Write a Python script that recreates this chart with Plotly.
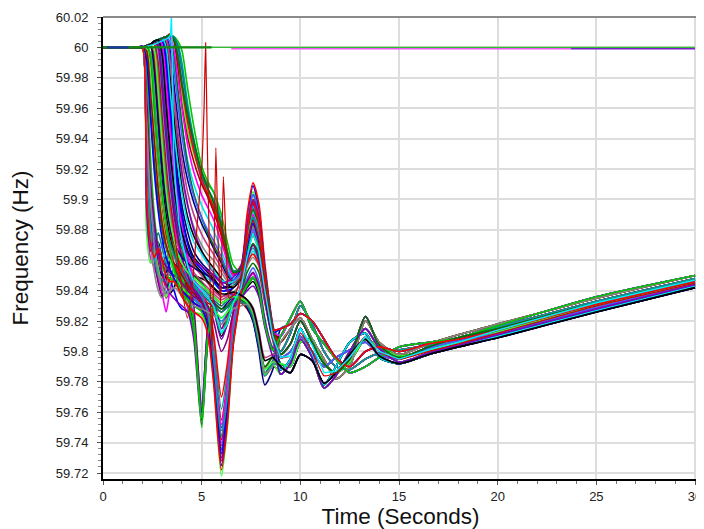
import plotly.graph_objects as go

# ---------------- data ----------------
time_s = [0, 1.8, 2.0, 2.2, 2.4, 2.6, 2.8, 3.0, 3.2, 3.4, 3.6, 3.8, 4.0,
          4.3, 4.6, 5.0, 5.3, 5.6, 6.0, 6.3, 6.6, 7.0, 7.3, 7.6, 7.9, 8.2, 8.6,
          9.0, 9.5, 10.0, 10.6, 11.2, 11.8, 12.5, 13.3, 14.0, 15.0, 16.5, 18.0, 20.0, 25.0, 30.0]

freq_series = [
    # early-onset units (drop at ~2.1 s)
    [60, 60, 60.000, 59.900, 59.868, 59.876, 59.862, 59.850, 59.842, 59.848, 59.852, 59.846, 59.840,
     59.834, 59.830, 59.827, 59.820, 59.792, 59.738, 59.768, 59.812, 59.840, 59.864, 59.876, 59.866, 59.838, 59.810,
     59.792, 59.790, 59.806, 59.808, 59.792, 59.786, 59.793, 59.808, 59.803, 59.797, 59.801, 59.806, 59.813, 59.830, 59.845],
    [60, 60, 60.001, 59.915, 59.880, 59.866, 59.872, 59.860, 59.848, 59.838, 59.842, 59.848, 59.843,
     59.835, 59.816, 59.755, 59.806, 59.828, 59.810, 59.818, 59.830, 59.836, 59.842, 59.846, 59.838, 59.818, 59.801,
     59.800, 59.812, 59.830, 59.818, 59.800, 59.790, 59.788, 59.795, 59.799, 59.801, 59.804, 59.809, 59.816, 59.833, 59.848],
    [60, 60, 60.000, 59.925, 59.888, 59.880, 59.866, 59.858, 59.862, 59.854, 59.846, 59.842, 59.838,
     59.845, 59.842, 59.836, 59.832, 59.830, 59.826, 59.830, 59.834, 59.832, 59.828, 59.820, 59.802, 59.784, 59.790,
     59.788, 59.795, 59.815, 59.798, 59.778, 59.790, 59.806, 59.812, 59.796, 59.792, 59.798, 59.804, 59.810, 59.827, 59.843],
    [60, 60, 60.001, 59.935, 59.895, 59.872, 59.858, 59.845, 59.835, 59.840, 59.850, 59.855, 59.848,
     59.838, 59.834, 59.830, 59.822, 59.796, 59.745, 59.772, 59.815, 59.842, 59.868, 59.882, 59.871, 59.842, 59.812,
     59.806, 59.815, 59.822, 59.808, 59.795, 59.782, 59.790, 59.820, 59.806, 59.798, 59.805, 59.811, 59.818, 59.835, 59.850],
    [60, 60, 60.000, 59.890, 59.862, 59.855, 59.848, 59.838, 59.826, 59.842, 59.856, 59.850, 59.842,
     59.828, 59.812, 59.758, 59.810, 59.832, 59.815, 59.822, 59.834, 59.838, 59.846, 59.851, 59.842, 59.820, 59.802,
     59.796, 59.800, 59.810, 59.800, 59.790, 59.796, 59.801, 59.806, 59.798, 59.795, 59.802, 59.807, 59.812, 59.829, 59.844],
    [60, 60, 60.001, 59.905, 59.875, 59.870, 59.878, 59.868, 59.856, 59.850, 59.855, 59.858, 59.852,
     59.848, 59.846, 59.842, 59.838, 59.834, 59.830, 59.834, 59.838, 59.836, 59.832, 59.824, 59.806, 59.786, 59.794,
     59.810, 59.822, 59.833, 59.815, 59.805, 59.795, 59.786, 59.790, 59.796, 59.803, 59.806, 59.809, 59.817, 59.836, 59.850],
    [60, 60, 60.000, 59.920, 59.885, 59.860, 59.845, 59.836, 59.844, 59.858, 59.862, 59.855, 59.846,
     59.836, 59.832, 59.829, 59.818, 59.788, 59.750, 59.776, 59.816, 59.844, 59.872, 59.887, 59.875, 59.844, 59.813,
     59.785, 59.792, 59.808, 59.796, 59.776, 59.784, 59.800, 59.815, 59.802, 59.793, 59.799, 59.804, 59.811, 59.828, 59.844],
    [60, 60, 60.001, 59.930, 59.892, 59.876, 59.856, 59.842, 59.838, 59.846, 59.840, 59.832, 59.828,
     59.826, 59.814, 59.760, 59.815, 59.833, 59.812, 59.820, 59.832, 59.837, 59.843, 59.848, 59.840, 59.818, 59.801,
     59.798, 59.805, 59.820, 59.806, 59.792, 59.786, 59.795, 59.823, 59.804, 59.796, 59.803, 59.809, 59.815, 59.832, 59.847],
    [60, 60, 60.000, 59.960, 59.895, 59.870, 59.856, 59.850, 59.852, 59.860, 59.864, 59.860, 59.855,
     59.848, 59.844, 59.840, 59.836, 59.832, 59.828, 59.832, 59.836, 59.834, 59.829, 59.820, 59.800, 59.778, 59.788,
     59.815, 59.818, 59.825, 59.820, 59.808, 59.796, 59.790, 59.800, 59.803, 59.800, 59.805, 59.808, 59.814, 59.831, 59.846],
    [60, 60, 59.999, 59.880, 59.858, 59.866, 59.855, 59.842, 59.836, 59.845, 59.852, 59.846, 59.838,
     59.830, 59.826, 59.824, 59.814, 59.782, 59.718, 59.750, 59.804, 59.842, 59.882, 59.905, 59.890, 59.850, 59.814,
     59.790, 59.786, 59.798, 59.794, 59.779, 59.786, 59.798, 59.808, 59.797, 59.792, 59.798, 59.803, 59.809, 59.826, 59.842],
    [60, 60, 60.000, 59.945, 59.882, 59.862, 59.850, 59.846, 59.856, 59.868, 59.870, 59.862, 59.852,
     59.840, 59.834, 59.830, 59.828, 59.826, 59.820, 59.824, 59.830, 59.832, 59.832, 59.826, 59.808, 59.784, 59.791,
     59.792, 59.790, 59.806, 59.808, 59.792, 59.786, 59.793, 59.808, 59.803, 59.797, 59.801, 59.806, 59.813, 59.830, 59.845],
    [60, 60, 60.001, 59.950, 59.905, 59.885, 59.870, 59.862, 59.866, 59.872, 59.868, 59.860, 59.850,
     59.842, 59.838, 59.834, 59.830, 59.826, 59.822, 59.826, 59.832, 59.840, 59.856, 59.866, 59.858, 59.834, 59.808,
     59.800, 59.812, 59.830, 59.818, 59.800, 59.790, 59.788, 59.795, 59.799, 59.801, 59.804, 59.809, 59.816, 59.833, 59.848],
    [60, 60, 60.000, 59.910, 59.872, 59.852, 59.840, 59.835, 59.843, 59.854, 59.858, 59.852, 59.845,
     59.838, 59.832, 59.828, 59.818, 59.786, 59.732, 59.760, 59.808, 59.840, 59.870, 59.886, 59.874, 59.843, 59.812,
     59.788, 59.795, 59.815, 59.798, 59.778, 59.790, 59.806, 59.812, 59.796, 59.792, 59.798, 59.804, 59.810, 59.827, 59.843],
    [60, 60, 60.001, 59.940, 59.900, 59.878, 59.866, 59.870, 59.876, 59.868, 59.856, 59.848, 59.842,
     59.838, 59.822, 59.765, 59.812, 59.830, 59.818, 59.826, 59.836, 59.840, 59.848, 59.855, 59.846, 59.822, 59.803,
     59.806, 59.815, 59.822, 59.808, 59.795, 59.782, 59.790, 59.820, 59.806, 59.798, 59.805, 59.811, 59.818, 59.835, 59.850],
    [60, 60, 60.000, 59.985, 59.930, 59.890, 59.868, 59.856, 59.850, 59.848, 59.846, 59.842, 59.838,
     59.834, 59.830, 59.826, 59.816, 59.786, 59.736, 59.764, 59.810, 59.840, 59.868, 59.882, 59.871, 59.842, 59.812,
     59.796, 59.800, 59.810, 59.800, 59.790, 59.796, 59.801, 59.806, 59.798, 59.795, 59.802, 59.807, 59.812, 59.829, 59.844],
    [60, 60, 60.001, 59.895, 59.866, 59.874, 59.866, 59.852, 59.844, 59.838, 59.835, 59.832, 59.830,
     59.826, 59.808, 59.752, 59.804, 59.826, 59.808, 59.818, 59.830, 59.836, 59.844, 59.849, 59.841, 59.819, 59.801,
     59.810, 59.822, 59.833, 59.815, 59.805, 59.795, 59.786, 59.790, 59.796, 59.803, 59.806, 59.809, 59.817, 59.836, 59.850],
    # mid-onset units (drop between 2.3 and 3.2 s)
    [60, 60, 60, 59.995, 59.960, 59.925, 59.898, 59.880, 59.868, 59.860, 59.855, 59.850, 59.846,
     59.842, 59.838, 59.836, 59.834, 59.832, 59.828, 59.830, 59.834, 59.840, 59.852, 59.858, 59.852, 59.832, 59.808,
     59.785, 59.792, 59.808, 59.796, 59.776, 59.784, 59.800, 59.815, 59.802, 59.793, 59.799, 59.804, 59.811, 59.828, 59.844],
    [60, 60, 60, 60.001, 59.990, 59.950, 59.915, 59.892, 59.876, 59.866, 59.858, 59.852, 59.846,
     59.838, 59.832, 59.828, 59.818, 59.784, 59.728, 59.758, 59.806, 59.838, 59.866, 59.880, 59.869, 59.840, 59.811,
     59.798, 59.805, 59.820, 59.806, 59.792, 59.786, 59.795, 59.823, 59.804, 59.796, 59.803, 59.809, 59.815, 59.832, 59.847],
    [60, 60, 60, 60.001, 60.002, 59.980, 59.945, 59.912, 59.890, 59.875, 59.866, 59.860, 59.856,
     59.852, 59.850, 59.848, 59.846, 59.842, 59.836, 59.838, 59.842, 59.850, 59.874, 59.894, 59.884, 59.850, 59.814,
     59.815, 59.818, 59.825, 59.820, 59.808, 59.796, 59.790, 59.800, 59.803, 59.800, 59.805, 59.808, 59.814, 59.831, 59.846],
    [60, 60, 60, 60.001, 60.002, 59.995, 59.960, 59.925, 59.898, 59.880, 59.868, 59.860, 59.852,
     59.842, 59.836, 59.832, 59.824, 59.800, 59.755, 59.780, 59.818, 59.842, 59.865, 59.878, 59.868, 59.840, 59.811,
     59.790, 59.786, 59.798, 59.794, 59.779, 59.786, 59.798, 59.808, 59.797, 59.792, 59.798, 59.803, 59.809, 59.826, 59.842],
    [60, 60, 60, 60.001, 60.002, 60.003, 59.985, 59.950, 59.918, 59.895, 59.880, 59.870, 59.864,
     59.858, 59.852, 59.846, 59.842, 59.838, 59.834, 59.836, 59.838, 59.835, 59.831, 59.823, 59.806, 59.789, 59.796,
     59.792, 59.790, 59.806, 59.808, 59.792, 59.786, 59.793, 59.808, 59.803, 59.797, 59.801, 59.806, 59.813, 59.830, 59.845],
    [60, 60, 60, 60.001, 60.002, 60.004, 59.995, 59.965, 59.930, 59.902, 59.884, 59.870, 59.860,
     59.848, 59.840, 59.834, 59.824, 59.794, 59.740, 59.768, 59.813, 59.842, 59.868, 59.884, 59.872, 59.842, 59.812,
     59.800, 59.812, 59.830, 59.818, 59.800, 59.790, 59.788, 59.795, 59.799, 59.801, 59.804, 59.809, 59.816, 59.833, 59.848],
    [60, 60, 60, 60.001, 60.002, 60.004, 60.005, 59.985, 59.950, 59.920, 59.898, 59.882, 59.872,
     59.862, 59.856, 59.852, 59.850, 59.848, 59.842, 59.843, 59.846, 59.855, 59.884, 59.903, 59.892, 59.855, 59.816,
     59.788, 59.795, 59.815, 59.798, 59.778, 59.790, 59.806, 59.812, 59.796, 59.792, 59.798, 59.804, 59.810, 59.827, 59.843],
    [60, 60, 60, 60.001, 60.002, 60.004, 60.005, 60.000, 59.968, 59.935, 59.908, 59.888, 59.872,
     59.852, 59.830, 59.762, 59.814, 59.834, 59.815, 59.824, 59.835, 59.838, 59.846, 59.852, 59.843, 59.820, 59.802,
     59.806, 59.815, 59.822, 59.808, 59.795, 59.782, 59.790, 59.820, 59.806, 59.798, 59.805, 59.811, 59.818, 59.835, 59.850],
    [60, 60, 60, 60.001, 60.002, 60.004, 60.005, 60.004, 59.985, 59.952, 59.922, 59.900, 59.884,
     59.862, 59.846, 59.836, 59.826, 59.792, 59.725, 59.756, 59.808, 59.845, 59.885, 59.909, 59.894, 59.853, 59.815,
     59.796, 59.800, 59.810, 59.800, 59.790, 59.796, 59.801, 59.806, 59.798, 59.795, 59.802, 59.807, 59.812, 59.829, 59.844],
    [60, 60, 60, 60.001, 60.002, 60.004, 60.005, 60.006, 60.002, 59.975, 59.942, 59.915, 59.896,
     59.878, 59.866, 59.858, 59.854, 59.850, 59.846, 59.845, 59.846, 59.853, 59.878, 59.893, 59.883, 59.850, 59.814,
     59.810, 59.822, 59.833, 59.815, 59.805, 59.795, 59.786, 59.790, 59.796, 59.803, 59.806, 59.809, 59.817, 59.836, 59.850],
    [60, 60, 60, 60.000, 59.985, 59.945, 59.912, 59.888, 59.870, 59.860, 59.852, 59.846, 59.842,
     59.838, 59.836, 59.834, 59.830, 59.828, 59.822, 59.826, 59.832, 59.834, 59.834, 59.828, 59.808, 59.785, 59.792,
     59.785, 59.792, 59.808, 59.796, 59.776, 59.784, 59.800, 59.815, 59.802, 59.793, 59.799, 59.804, 59.811, 59.828, 59.844],
    [60, 60, 60, 60.001, 60.002, 59.990, 59.955, 59.922, 59.900, 59.884, 59.872, 59.864, 59.858,
     59.850, 59.844, 59.838, 59.830, 59.808, 59.762, 59.786, 59.822, 59.843, 59.860, 59.868, 59.860, 59.836, 59.809,
     59.798, 59.805, 59.820, 59.806, 59.792, 59.786, 59.795, 59.823, 59.804, 59.796, 59.803, 59.809, 59.815, 59.832, 59.847],
    [60, 60, 60, 60.001, 60.002, 60.004, 59.992, 59.960, 59.928, 59.904, 59.888, 59.876, 59.868,
     59.860, 59.856, 59.852, 59.848, 59.845, 59.840, 59.841, 59.844, 59.850, 59.870, 59.884, 59.875, 59.846, 59.813,
     59.815, 59.818, 59.825, 59.820, 59.808, 59.796, 59.790, 59.800, 59.803, 59.800, 59.805, 59.808, 59.814, 59.831, 59.846],
    [60, 60, 60, 60.001, 60.001, 59.975, 59.938, 59.905, 59.884, 59.870, 59.862, 59.858, 59.855,
     59.850, 59.846, 59.842, 59.840, 59.836, 59.832, 59.835, 59.839, 59.844, 59.856, 59.862, 59.856, 59.834, 59.808,
     59.790, 59.786, 59.798, 59.794, 59.779, 59.786, 59.798, 59.808, 59.797, 59.792, 59.798, 59.803, 59.809, 59.826, 59.842],
    [60, 60, 60, 60.001, 60.002, 60.004, 60.005, 59.998, 59.965, 59.930, 59.900, 59.878, 59.862,
     59.846, 59.836, 59.830, 59.822, 59.796, 59.748, 59.774, 59.815, 59.842, 59.866, 59.880, 59.870, 59.841, 59.811,
     59.792, 59.790, 59.806, 59.808, 59.792, 59.786, 59.793, 59.808, 59.803, 59.797, 59.801, 59.806, 59.813, 59.830, 59.845],
    [60, 60, 60, 60.001, 60.002, 60.002, 59.980, 59.945, 59.912, 59.888, 59.870, 59.858, 59.848,
     59.836, 59.820, 59.750, 59.808, 59.830, 59.812, 59.820, 59.832, 59.837, 59.843, 59.848, 59.840, 59.817, 59.801,
     59.800, 59.812, 59.830, 59.818, 59.800, 59.790, 59.788, 59.795, 59.799, 59.801, 59.804, 59.809, 59.816, 59.833, 59.848],
    [60, 60, 60, 60.001, 60.002, 60.004, 60.005, 60.004, 59.988, 59.955, 59.925, 59.900, 59.880,
     59.858, 59.842, 59.834, 59.824, 59.794, 59.735, 59.764, 59.812, 59.844, 59.874, 59.893, 59.880, 59.846, 59.813,
     59.788, 59.795, 59.815, 59.798, 59.778, 59.790, 59.806, 59.812, 59.796, 59.792, 59.798, 59.804, 59.810, 59.827, 59.843],
    [60, 60, 60, 60.001, 60.002, 60.004, 60.004, 59.980, 59.945, 59.915, 59.892, 59.876, 59.866,
     59.856, 59.850, 59.845, 59.840, 59.836, 59.832, 59.834, 59.836, 59.834, 59.831, 59.824, 59.808, 59.790, 59.797,
     59.806, 59.815, 59.822, 59.808, 59.795, 59.782, 59.790, 59.820, 59.806, 59.798, 59.805, 59.811, 59.818, 59.835, 59.850],
    [60, 60, 60, 60.001, 60.002, 59.992, 59.958, 59.926, 59.902, 59.885, 59.872, 59.862, 59.854,
     59.846, 59.842, 59.838, 59.830, 59.812, 59.770, 59.792, 59.826, 59.844, 59.858, 59.864, 59.857, 59.834, 59.808,
     59.796, 59.800, 59.810, 59.800, 59.790, 59.796, 59.801, 59.806, 59.798, 59.795, 59.802, 59.807, 59.812, 59.829, 59.844],
    [60, 60, 60, 60.001, 60.002, 60.004, 60.005, 60.006, 59.998, 59.968, 59.936, 59.910, 59.890,
     59.872, 59.862, 59.856, 59.852, 59.848, 59.842, 59.842, 59.843, 59.848, 59.862, 59.870, 59.864, 59.840, 59.811,
     59.810, 59.822, 59.833, 59.815, 59.805, 59.795, 59.786, 59.790, 59.796, 59.803, 59.806, 59.809, 59.817, 59.836, 59.850],
    [60, 60, 60, 59.998, 59.972, 59.938, 59.906, 59.884, 59.870, 59.862, 59.858, 59.855, 59.850,
     59.844, 59.838, 59.832, 59.822, 59.790, 59.742, 59.770, 59.814, 59.843, 59.870, 59.884, 59.872, 59.842, 59.812,
     59.785, 59.792, 59.808, 59.796, 59.776, 59.784, 59.800, 59.815, 59.802, 59.793, 59.799, 59.804, 59.811, 59.828, 59.844],
    [60, 60, 60, 60.001, 60.002, 60.003, 59.975, 59.940, 59.910, 59.890, 59.878, 59.870, 59.866,
     59.862, 59.856, 59.850, 59.845, 59.840, 59.836, 59.837, 59.838, 59.836, 59.834, 59.829, 59.814, 59.796, 59.798,
     59.798, 59.805, 59.820, 59.806, 59.792, 59.786, 59.795, 59.823, 59.804, 59.796, 59.803, 59.809, 59.815, 59.832, 59.847],
    [60, 60, 60, 60.001, 60.002, 60.004, 60.005, 60.002, 59.975, 59.945, 59.918, 59.898, 59.882,
     59.862, 59.848, 59.838, 59.828, 59.798, 59.752, 59.778, 59.818, 59.845, 59.876, 59.896, 59.884, 59.848, 59.814,
     59.815, 59.818, 59.825, 59.820, 59.808, 59.796, 59.790, 59.800, 59.803, 59.800, 59.805, 59.808, 59.814, 59.831, 59.846],
    [60, 60, 60, 60.001, 59.995, 59.962, 59.928, 59.902, 59.884, 59.872, 59.864, 59.858, 59.852,
     59.846, 59.842, 59.838, 59.834, 59.830, 59.826, 59.829, 59.833, 59.833, 59.830, 59.822, 59.804, 59.786, 59.792,
     59.790, 59.786, 59.798, 59.794, 59.779, 59.786, 59.798, 59.808, 59.797, 59.792, 59.798, 59.803, 59.809, 59.826, 59.842],
    [60, 60, 60, 60.001, 60.002, 60.004, 60.000, 59.972, 59.940, 59.912, 59.890, 59.874, 59.862,
     59.850, 59.840, 59.833, 59.824, 59.790, 59.730, 59.760, 59.810, 59.842, 59.872, 59.890, 59.877, 59.845, 59.813,
     59.792, 59.790, 59.806, 59.808, 59.792, 59.786, 59.793, 59.808, 59.803, 59.797, 59.801, 59.806, 59.813, 59.830, 59.845],
    [60, 60, 60, 60.001, 60.002, 60.004, 60.005, 60.005, 59.992, 59.962, 59.932, 59.908, 59.890,
     59.870, 59.860, 59.854, 59.850, 59.846, 59.840, 59.840, 59.842, 59.849, 59.872, 59.886, 59.876, 59.846, 59.813,
     59.800, 59.812, 59.830, 59.818, 59.800, 59.790, 59.788, 59.795, 59.799, 59.801, 59.804, 59.809, 59.816, 59.833, 59.848],
    # late-onset units (drop between 3.3 and 3.9 s)
    [60, 60, 60, 60.001, 60.002, 60.004, 60.005, 60.006, 60.007, 59.998, 59.975, 59.952, 59.932,
     59.912, 59.898, 59.884, 59.876, 59.868, 59.858, 59.850, 59.846, 59.852, 59.880, 59.898, 59.886, 59.852, 59.816,
     59.788, 59.795, 59.815, 59.798, 59.778, 59.790, 59.806, 59.812, 59.796, 59.792, 59.798, 59.804, 59.810, 59.827, 59.843],
    [60, 60, 60, 60.001, 60.002, 60.004, 60.005, 60.006, 60.007, 60.008, 60.004, 59.990, 59.970,
     59.945, 59.930, 59.915, 59.906, 59.896, 59.878, 59.862, 59.851, 59.854, 59.878, 59.892, 59.882, 59.850, 59.815,
     59.806, 59.815, 59.822, 59.808, 59.795, 59.782, 59.790, 59.820, 59.806, 59.798, 59.805, 59.811, 59.818, 59.835, 59.850],
    [60, 60, 60, 60.001, 60.002, 60.004, 60.005, 60.006, 60.007, 60.008, 60.006, 60.002, 59.990,
     59.962, 59.940, 59.918, 59.910, 59.905, 59.885, 59.866, 59.853, 59.852, 59.872, 59.887, 59.877, 59.848, 59.814,
     59.796, 59.800, 59.810, 59.800, 59.790, 59.796, 59.801, 59.806, 59.798, 59.795, 59.802, 59.807, 59.812, 59.829, 59.844],
    [60, 60, 60, 60.001, 60.002, 60.004, 60.005, 60.006, 60.007, 60.006, 59.992, 59.968, 59.948,
     59.925, 59.910, 59.896, 59.888, 59.880, 59.866, 59.856, 59.848, 59.853, 59.880, 59.895, 59.884, 59.851, 59.815,
     59.810, 59.822, 59.833, 59.815, 59.805, 59.795, 59.786, 59.790, 59.796, 59.803, 59.806, 59.809, 59.817, 59.836, 59.850],
    [60, 60, 60, 60.001, 60.002, 60.004, 60.005, 60.006, 60.004, 59.985, 59.958, 59.935, 59.915,
     59.895, 59.882, 59.870, 59.864, 59.860, 59.852, 59.846, 59.843, 59.848, 59.868, 59.882, 59.872, 59.845, 59.812,
     59.785, 59.792, 59.808, 59.796, 59.776, 59.784, 59.800, 59.815, 59.802, 59.793, 59.799, 59.804, 59.811, 59.828, 59.844],
    [60, 60, 60, 60.001, 60.002, 60.004, 60.005, 60.006, 60.007, 60.008, 60.006, 59.996, 59.978,
     59.952, 59.935, 59.912, 59.902, 59.894, 59.880, 59.864, 59.852, 59.856, 59.885, 59.903, 59.890, 59.855, 59.817,
     59.798, 59.805, 59.820, 59.806, 59.792, 59.786, 59.795, 59.823, 59.804, 59.796, 59.803, 59.809, 59.815, 59.832, 59.847],
    [60, 60, 60, 60.001, 60.002, 60.004, 60.005, 60.006, 60.007, 60.008, 60.007, 60.004, 59.998,
     59.972, 59.948, 59.922, 59.912, 59.905, 59.890, 59.872, 59.857, 59.852, 59.866, 59.876, 59.868, 59.843, 59.812,
     59.815, 59.818, 59.825, 59.820, 59.808, 59.796, 59.790, 59.800, 59.803, 59.800, 59.805, 59.808, 59.814, 59.831, 59.846],
    [60, 60, 60, 60.001, 60.002, 60.004, 60.005, 60.006, 60.006, 59.995, 59.968, 59.940, 59.918,
     59.896, 59.880, 59.866, 59.858, 59.852, 59.845, 59.840, 59.837, 59.836, 59.840, 59.843, 59.836, 59.816, 59.797,
     59.790, 59.786, 59.798, 59.794, 59.779, 59.786, 59.798, 59.808, 59.797, 59.792, 59.798, 59.803, 59.809, 59.826, 59.842],
    [60, 60, 60, 60.001, 60.002, 60.004, 60.005, 60.006, 60.007, 60.007, 59.995, 59.972, 59.950,
     59.922, 59.904, 59.888, 59.878, 59.870, 59.860, 59.852, 59.846, 59.848, 59.862, 59.871, 59.864, 59.842, 59.812,
     59.792, 59.790, 59.806, 59.808, 59.792, 59.786, 59.793, 59.808, 59.803, 59.797, 59.801, 59.806, 59.813, 59.830, 59.845],
    [60, 60, 60, 60.001, 60.002, 60.004, 60.005, 60.006, 60.007, 60.008, 60.005, 59.992, 59.974,
     59.950, 59.932, 59.914, 59.904, 59.895, 59.878, 59.862, 59.851, 59.857, 59.890, 59.911, 59.897, 59.858, 59.818,
     59.800, 59.812, 59.830, 59.818, 59.800, 59.790, 59.788, 59.795, 59.799, 59.801, 59.804, 59.809, 59.816, 59.833, 59.848],
    [60, 60, 60, 60.001, 60.002, 60.004, 60.005, 60.006, 60.002, 59.980, 59.952, 59.928, 59.908,
     59.888, 59.876, 59.866, 59.860, 59.855, 59.848, 59.844, 59.842, 59.848, 59.872, 59.888, 59.877, 59.847, 59.813,
     59.788, 59.795, 59.815, 59.798, 59.778, 59.790, 59.806, 59.812, 59.796, 59.792, 59.798, 59.804, 59.810, 59.827, 59.843],
    [60, 60, 60, 60.001, 60.002, 60.004, 60.005, 60.006, 60.007, 60.009, 60.004, 59.985, 59.962,
     59.940, 59.925, 59.910, 59.902, 59.892, 59.876, 59.860, 59.850, 59.855, 59.882, 59.900, 59.888, 59.853, 59.816,
     59.806, 59.815, 59.822, 59.808, 59.795, 59.782, 59.790, 59.820, 59.806, 59.798, 59.805, 59.811, 59.818, 59.835, 59.850],
    [60, 60, 60, 60.001, 60.002, 60.004, 60.005, 60.006, 60.005, 59.990, 59.965, 59.944, 59.926,
     59.904, 59.890, 59.877, 59.870, 59.864, 59.855, 59.848, 59.845, 59.851, 59.877, 59.893, 59.882, 59.849, 59.814,
     59.796, 59.800, 59.810, 59.800, 59.790, 59.796, 59.801, 59.806, 59.798, 59.795, 59.802, 59.807, 59.812, 59.829, 59.844],
    [60, 60, 60, 60.001, 60.002, 60.004, 60.005, 60.006, 60.007, 60.007, 59.998, 59.980, 59.960,
     59.935, 59.918, 59.903, 59.895, 59.887, 59.872, 59.859, 59.850, 59.853, 59.876, 59.890, 59.880, 59.849, 59.814,
     59.810, 59.822, 59.833, 59.815, 59.805, 59.795, 59.786, 59.790, 59.796, 59.803, 59.806, 59.809, 59.817, 59.836, 59.850],
    [60, 60, 60, 60.001, 60.002, 60.004, 60.005, 60.006, 60.007, 60.008, 60.007, 60.000, 59.985,
     59.958, 59.938, 59.916, 59.907, 59.900, 59.884, 59.866, 59.853, 59.855, 59.880, 59.896, 59.885, 59.851, 59.815,
     59.785, 59.792, 59.808, 59.796, 59.776, 59.784, 59.800, 59.815, 59.802, 59.793, 59.799, 59.804, 59.811, 59.828, 59.844],
    # further units filling the band
    [60, 60, 60.000, 59.970, 59.915, 59.885, 59.868, 59.860, 59.856, 59.852, 59.850, 59.848, 59.845,
     59.840, 59.836, 59.834, 59.830, 59.820, 59.800, 59.808, 59.826, 59.842, 59.860, 59.870, 59.860, 59.836, 59.810,
     59.798, 59.805, 59.820, 59.806, 59.792, 59.786, 59.795, 59.823, 59.804, 59.796, 59.803, 59.809, 59.815, 59.832, 59.847],
    [60, 60, 60, 59.992, 59.955, 59.918, 59.892, 59.874, 59.862, 59.854, 59.848, 59.844, 59.840,
     59.836, 59.832, 59.828, 59.818, 59.786, 59.733, 59.762, 59.808, 59.840, 59.868, 59.884, 59.872, 59.842, 59.812,
     59.815, 59.818, 59.825, 59.820, 59.808, 59.796, 59.790, 59.800, 59.803, 59.800, 59.805, 59.808, 59.814, 59.831, 59.846],
    [60, 60, 60, 60.001, 60.002, 59.985, 59.952, 59.920, 59.897, 59.882, 59.872, 59.866, 59.862,
     59.858, 59.855, 59.852, 59.850, 59.847, 59.842, 59.843, 59.846, 59.854, 59.880, 59.897, 59.886, 59.852, 59.815,
     59.790, 59.786, 59.798, 59.794, 59.779, 59.786, 59.798, 59.808, 59.797, 59.792, 59.798, 59.803, 59.809, 59.826, 59.842],
    [60, 60, 60, 60.001, 60.002, 59.998, 59.970, 59.936, 59.906, 59.886, 59.873, 59.864, 59.858,
     59.852, 59.848, 59.844, 59.840, 59.836, 59.832, 59.834, 59.836, 59.835, 59.832, 59.825, 59.808, 59.788, 59.793,
     59.792, 59.790, 59.806, 59.808, 59.792, 59.786, 59.793, 59.808, 59.803, 59.797, 59.801, 59.806, 59.813, 59.830, 59.845],
    [60, 60, 60, 60.001, 60.002, 60.004, 60.005, 59.990, 59.958, 59.928, 59.904, 59.886, 59.872,
     59.856, 59.844, 59.836, 59.826, 59.796, 59.744, 59.770, 59.813, 59.843, 59.872, 59.888, 59.876, 59.845, 59.813,
     59.800, 59.812, 59.830, 59.818, 59.800, 59.790, 59.788, 59.795, 59.799, 59.801, 59.804, 59.809, 59.816, 59.833, 59.848],
    [60, 60, 60, 60.001, 60.002, 60.004, 60.005, 60.006, 60.000, 59.972, 59.945, 59.922, 59.904,
     59.884, 59.872, 59.864, 59.858, 59.853, 59.847, 59.845, 59.846, 59.852, 59.876, 59.892, 59.882, 59.850, 59.814,
     59.788, 59.795, 59.815, 59.798, 59.778, 59.790, 59.806, 59.812, 59.796, 59.792, 59.798, 59.804, 59.810, 59.827, 59.843],
    [60, 60, 60.000, 59.955, 59.900, 59.870, 59.852, 59.842, 59.838, 59.840, 59.842, 59.840, 59.836,
     59.832, 59.830, 59.828, 59.826, 59.824, 59.818, 59.822, 59.828, 59.830, 59.831, 59.826, 59.808, 59.786, 59.790,
     59.806, 59.815, 59.822, 59.808, 59.795, 59.782, 59.790, 59.820, 59.806, 59.798, 59.805, 59.811, 59.818, 59.835, 59.850],
    [60, 60, 60, 60.001, 60.002, 60.004, 60.005, 60.006, 60.007, 60.003, 59.985, 59.962, 59.942,
     59.918, 59.902, 59.888, 59.880, 59.873, 59.862, 59.853, 59.847, 59.852, 59.879, 59.896, 59.885, 59.851, 59.815,
     59.796, 59.800, 59.810, 59.800, 59.790, 59.796, 59.801, 59.806, 59.798, 59.795, 59.802, 59.807, 59.812, 59.829, 59.844],
    [60, 60, 60, 60.001, 59.996, 59.966, 59.932, 59.904, 59.882, 59.866, 59.854, 59.845, 59.838,
     59.830, 59.814, 59.756, 59.808, 59.829, 59.812, 59.820, 59.832, 59.837, 59.844, 59.849, 59.840, 59.818, 59.801,
     59.810, 59.822, 59.833, 59.815, 59.805, 59.795, 59.786, 59.790, 59.796, 59.803, 59.806, 59.809, 59.817, 59.836, 59.850],
    [60, 60, 60, 60.001, 60.002, 60.004, 60.002, 59.978, 59.946, 59.918, 59.897, 59.882, 59.872,
     59.864, 59.860, 59.856, 59.853, 59.850, 59.845, 59.846, 59.849, 59.856, 59.882, 59.899, 59.887, 59.852, 59.815,
     59.785, 59.792, 59.808, 59.796, 59.776, 59.784, 59.800, 59.815, 59.802, 59.793, 59.799, 59.804, 59.811, 59.828, 59.844],
    [60, 60, 60, 60.001, 60.002, 60.004, 60.005, 60.006, 60.007, 60.008, 60.005, 59.993, 59.976,
     59.955, 59.938, 59.918, 59.908, 59.898, 59.882, 59.865, 59.852, 59.854, 59.878, 59.893, 59.883, 59.850, 59.815,
     59.798, 59.805, 59.820, 59.806, 59.792, 59.786, 59.795, 59.823, 59.804, 59.796, 59.803, 59.809, 59.815, 59.832, 59.847],
    [60, 60, 60.000, 59.905, 59.872, 59.862, 59.868, 59.860, 59.850, 59.846, 59.846, 59.842, 59.836,
     59.830, 59.826, 59.822, 59.812, 59.780, 59.722, 59.752, 59.804, 59.840, 59.878, 59.898, 59.885, 59.848, 59.814,
     59.815, 59.818, 59.825, 59.820, 59.808, 59.796, 59.790, 59.800, 59.803, 59.800, 59.805, 59.808, 59.814, 59.831, 59.846],
    [60, 60, 60, 60.001, 60.002, 60.004, 60.005, 59.995, 59.962, 59.932, 59.908, 59.890, 59.878,
     59.866, 59.858, 59.852, 59.846, 59.842, 59.838, 59.838, 59.839, 59.837, 59.834, 59.828, 59.812, 59.794, 59.796,
     59.790, 59.786, 59.798, 59.794, 59.779, 59.786, 59.798, 59.808, 59.797, 59.792, 59.798, 59.803, 59.809, 59.826, 59.842],
]

# unit with ringing oscillation (red, spike near 5.2 s)
ring_time = [0, 1.8, 2.0, 2.6, 2.8, 3.0, 3.3, 3.6, 3.9, 4.27,
             4.5, 4.75, 5.0, 5.12, 5.2, 5.28, 5.4, 5.52, 5.62, 5.72,
             5.84, 5.96, 6.1, 6.24, 6.4, 6.7, 7.0, 7.3, 7.6, 7.9,
             8.2, 8.6, 9.0, 9.5, 10.0,
             10.6, 11.2, 11.8, 12.5, 13.3, 14.0, 15.0, 16.5, 18.0, 20.0, 25.0, 30.0]
ring_freq = [60, 60, 60, 60.002, 59.990, 59.955, 59.910, 59.880, 59.850, 59.822,
             59.840, 59.880, 59.920, 59.960, 60.003, 59.940, 59.860, 59.800, 59.860, 59.934,
             59.870, 59.830, 59.915, 59.870, 59.835, 59.838, 59.850, 59.872, 59.886, 59.874,
             59.845, 59.812, 59.796, 59.797, 59.812,
             59.800, 59.784, 59.786, 59.796, 59.810, 59.800, 59.795, 59.800, 59.805, 59.812, 59.830, 59.845]

# unit with a short upward spike near 3.5 s (cyan)
spike_time = [0, 1.8, 2.0, 2.6, 3.0, 3.3, 3.42, 3.47, 3.5, 3.53, 3.58, 3.7, 3.85, 4.0,
              4.3, 4.6, 5.0, 5.3, 5.6, 6.0, 6.3, 6.6, 7.0, 7.3, 7.6, 7.9, 8.2, 8.6, 9.0, 9.5, 10.0,
              10.6, 11.2, 11.8, 12.5, 13.3, 14.0, 15.0, 16.5, 18.0, 20.0, 25.0, 30.0]
spike_freq = [60, 60, 60, 60.002, 60.004, 60.006, 60.008, 60.021, 59.998, 59.960, 59.930, 59.905, 59.885, 59.872,
              59.856, 59.846, 59.840, 59.836, 59.830, 59.812, 59.818, 59.832, 59.842, 59.862, 59.878, 59.866, 59.840, 59.810, 59.796, 59.797, 59.815,
              59.804, 59.786, 59.787, 59.796, 59.810, 59.800, 59.795, 59.801, 59.806, 59.814, 59.832, 59.847]

# buses that stay at nominal frequency
flat_time = [0, 30]
flat_freq = [60, 60]
flat2_time = [0, 5.5]
flat2_freq = [60, 60]
flat3_time = [0.2, 1.3]
flat3_freq = [60, 60]
pink_time = [6.5, 23.7]
pink_freq = [59.9992, 59.9992]
violet_time = [23.7, 30]
violet_freq = [59.9992, 59.9992]

x_tick_values = [0, 5, 10, 15, 20, 25, 30]
y_tick_values = [60.02, 60.0, 59.98, 59.96, 59.94, 59.92, 59.90, 59.88, 59.86,
                 59.84, 59.82, 59.80, 59.78, 59.76, 59.74, 59.72]
y_tick_labels = ["60.02", "60", "59.98", "59.96", "59.94", "59.92", "59.9", "59.88", "59.86",
                 "59.84", "59.82", "59.8", "59.78", "59.76", "59.74", "59.72"]

for i, s in enumerate(freq_series):
    assert len(s) == len(time_s), f"series {i+1} has {len(s)} values"
assert len(ring_time) == len(ring_freq)
assert len(spike_time) == len(spike_freq)

# ---------------- styling ----------------
palette = ["#ff0000", "#0000ff", "#00c800", "#ff00ff", "#00e0f0", "#000000", "#000080",
           "#8000c0", "#008080", "#888888", "#b00000", "#33ff33", "#007000", "#800080",
           "#4060ff", "#c04080", "#00a0a0"]
colors = [palette[(k * 5) % len(palette)] for k in range(len(freq_series))]

fig = go.Figure()
for s, c in zip(freq_series, colors):
    fig.add_trace(go.Scatter(x=time_s, y=s, mode="lines",
                             line=dict(color=c, width=1.6, shape="spline", smoothing=0.7),
                             hoverinfo="skip"))

fig.add_trace(go.Scatter(x=ring_time, y=ring_freq, mode="lines",
                         line=dict(color="#d00000", width=1.2, shape="spline", smoothing=0.5)))
fig.add_trace(go.Scatter(x=spike_time, y=spike_freq, mode="lines",
                         line=dict(color="#00f0ff", width=1.4)))
fig.add_trace(go.Scatter(x=pink_time, y=pink_freq, mode="lines",
                         line=dict(color="#ee55ee", width=2)))
fig.add_trace(go.Scatter(x=violet_time, y=violet_freq, mode="lines",
                         line=dict(color="#7a1fc8", width=2)))
fig.add_trace(go.Scatter(x=flat_time, y=flat_freq, mode="lines",
                         line=dict(color="#33bb33", width=1.3)))
fig.add_trace(go.Scatter(x=flat2_time, y=flat2_freq, mode="lines",
                         line=dict(color="#118811", width=2.4)))
fig.add_trace(go.Scatter(x=flat3_time, y=flat3_freq, mode="lines",
                         line=dict(color="#1a3aa0", width=2.4)))

FONT = "Liberation Sans, Arial, sans-serif"
# the page body adds an 8 px offset, so the figure is 8 px smaller than the window
fig.update_layout(
    width=696, height=521,
    margin=dict(l=95, r=2, t=8, b=47),
    paper_bgcolor="white", plot_bgcolor="white",
    showlegend=False,
    font=dict(family=FONT, color="#222222"),
    shapes=[
        dict(type="line", xref="paper", yref="paper", x0=0, x1=1, y0=1, y1=1,
             line=dict(color="#8a8a8a", width=2)),
        dict(type="line", xref="paper", yref="paper", x0=1, x1=1, y0=0, y1=1,
             line=dict(color="#8a8a8a", width=2)),
    ],
)
fig.update_xaxes(
    range=[0, 30.15], tickvals=x_tick_values,
    showgrid=True, gridcolor="#dddddd", gridwidth=1.5, zeroline=False,
    showline=True, linecolor="black", linewidth=2,
    ticks="outside", ticklen=4, tickcolor="#555555", tickwidth=1,
    minor=dict(dtick=1, tick0=0, ticks="outside", ticklen=3, tickcolor="#777777", showgrid=False),
    tickfont=dict(size=13, family=FONT, color="#222222"),
    ticklabelstandoff=0, ticklabeloverflow="allow",
    title=dict(text="Time (Seconds)", font=dict(size=22.5, family=FONT, color="#111111"), standoff=8),
)
fig.update_yaxes(
    range=[59.7161, 60.02], tickvals=y_tick_values, ticktext=y_tick_labels,
    showgrid=True, gridcolor="#dddddd", gridwidth=1.5, zeroline=False,
    showline=True, linecolor="black", linewidth=2,
    ticks="outside", ticklen=4, tickcolor="#555555", tickwidth=1,
    minor=dict(dtick=0.004, tick0=59.72, ticks="outside", ticklen=3, tickcolor="#888888", showgrid=False),
    tickfont=dict(size=13, family=FONT, color="#222222"),
    ticklabelstandoff=6,
    title=dict(text="Frequency (Hz)", font=dict(size=22.5, family=FONT, color="#111111"), standoff=30),
)

fig.write_html("out.html")
